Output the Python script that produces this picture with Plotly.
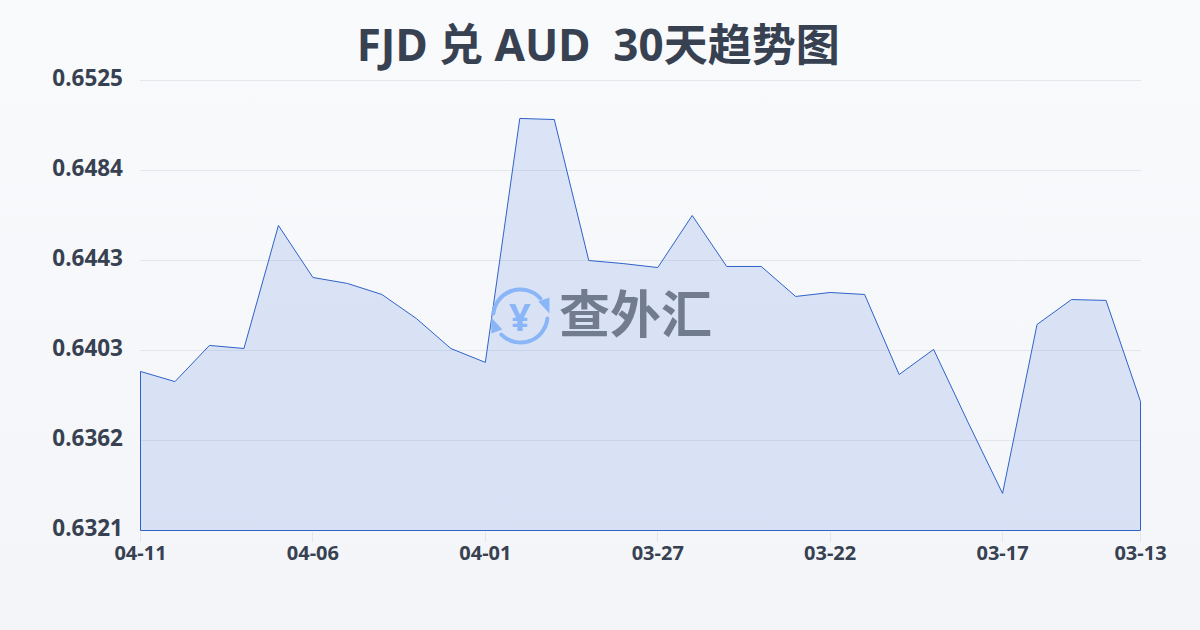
import base64
import plotly.graph_objects as go

title = "FJD 兑 AUD  30天趋势图"
watermark = "查外汇"
values = [0.63931, 0.63885, 0.64049, 0.64035, 0.64593, 0.64357, 0.6433, 0.6428, 0.64171, 0.64035,
          0.63972, 0.65078, 0.65073, 0.64434, 0.6442, 0.64402, 0.64638, 0.64407, 0.64407, 0.64271,
          0.64289, 0.6428, 0.63917, 0.64031, 0.637, 0.63378, 0.64144, 0.64257, 0.64253, 0.63795]
x_tick_positions = [0, 5, 10, 15, 20, 25, 29]
x_tick_labels = ["04-11", "04-06", "04-01", "03-27", "03-22", "03-17", "03-13"]
y_tick_values = [0.6321, 0.63618, 0.64026, 0.64434, 0.64842, 0.6525]
y_tick_labels = ["0.6321", "0.6362", "0.6403", "0.6443", "0.6484", "0.6525"]
y_min, y_max = 0.6321, 0.6525

FONT = "Noto Sans, Noto Sans CJK SC, sans-serif"
TEXT = "#374151"
LINE = "#2f62c9"

idx = list(range(len(values)))
xs = [idx[0]] + idx + [idx[-1], idx[0]]
ys = [y_min] + values + [y_min, y_min]

# half-pixel padding so the outline and grid fall on whole device pixels
y_pad = (y_max - y_min) / 450 * 0.5
x_pad = (idx[-1] - idx[0]) / 1000 * 0.5

fig = go.Figure(go.Scatter(
    x=xs, y=ys, mode="lines", fill="toself",
    line=dict(color=LINE, width=1),
    fillcolor="rgba(59,110,220,0.15)",
    hoverinfo="skip", cliponaxis=False, showlegend=False,
))

icon_svg = """<svg xmlns='http://www.w3.org/2000/svg' viewBox='0 0 60 60'>
<g fill='none' stroke='#8ab6f7' stroke-width='4' stroke-linecap='round'>
<path d='M3 28 A27 27 0 0 1 50 13'/>
<path d='M57 33 A27 27 0 0 1 11 49'/>
</g>
<g fill='#8ab6f7'>
<path d='M48 16 L59 12 L59 28 Z'/>
<path d='M12 44 L1 48 L1 32 Z'/>
</g>
</svg>"""
icon_src = "data:image/svg+xml;base64," + base64.b64encode(icon_svg.encode()).decode()

fig.update_layout(
    width=1200, height=630,
    margin=dict(l=140, r=59, t=80, b=99),
    paper_bgcolor="rgba(0,0,0,0)",
    plot_bgcolor="rgba(0,0,0,0)",
    font=dict(family=FONT, color=TEXT),
    title=dict(text="<b>" + title + "</b>", x=0.4985, xanchor="center", y=0.927, yanchor="middle",
               font=dict(size=44, color=TEXT, family=FONT)),
    xaxis=dict(range=[idx[0] - x_pad, idx[-1] + x_pad], tickmode="array", tickvals=x_tick_positions,
               ticktext=x_tick_labels, showgrid=False, zeroline=False, showline=False, ticks="outside",
               ticklen=10, tickwidth=1, tickcolor="#e2e6ea", ticklabelstandoff=-6,
               tickfont=dict(size=20, color=TEXT, family="Noto Sans", weight=700)),
    yaxis=dict(range=[y_min - y_pad, y_max + y_pad], tickmode="array", tickvals=y_tick_values,
               ticktext=y_tick_labels, showgrid=True, gridcolor="#e3e7ec", gridwidth=1, zeroline=False,
               showline=False, ticks="", ticklabelstandoff=16, ticklabelshift=-2,
               tickfont=dict(size=22.5, color=TEXT, family="Noto Sans", weight=700)),
    shapes=[dict(type="line", xref="paper", yref="y", x0=0, x1=1, y0=y_max, y1=y_max,
                 line=dict(color="#e3e7ec", width=1), layer="below")],
    images=[dict(source=icon_src, xref="paper", yref="paper", x=0.35, y=0.5444, sizex=0.06, sizey=0.1333,
                 xanchor="left", yanchor="top", sizing="contain", layer="above")],
    annotations=[
        dict(text="<b>" + watermark + "</b>", xref="paper", yref="paper", x=0.4165, y=0.4878,
             xanchor="left", yanchor="middle", showarrow=False,
             font=dict(size=51, color="#727c8f", family="Noto Sans CJK SC")),
        dict(text="<b>¥</b>", xref="paper", yref="paper", x=0.38, y=0.4778,
             xanchor="center", yanchor="middle", showarrow=False,
             font=dict(size=38, color="#8ab6f7", family="Noto Sans")),
    ],
)

fig.write_html("out.html", config=dict(displayModeBar=False),
               post_script="document.body.style.margin='0';document.documentElement.style.background='linear-gradient(180deg,#f8fafc 0%,#f3f5f8 100%)';document.documentElement.style.height='630px';")
